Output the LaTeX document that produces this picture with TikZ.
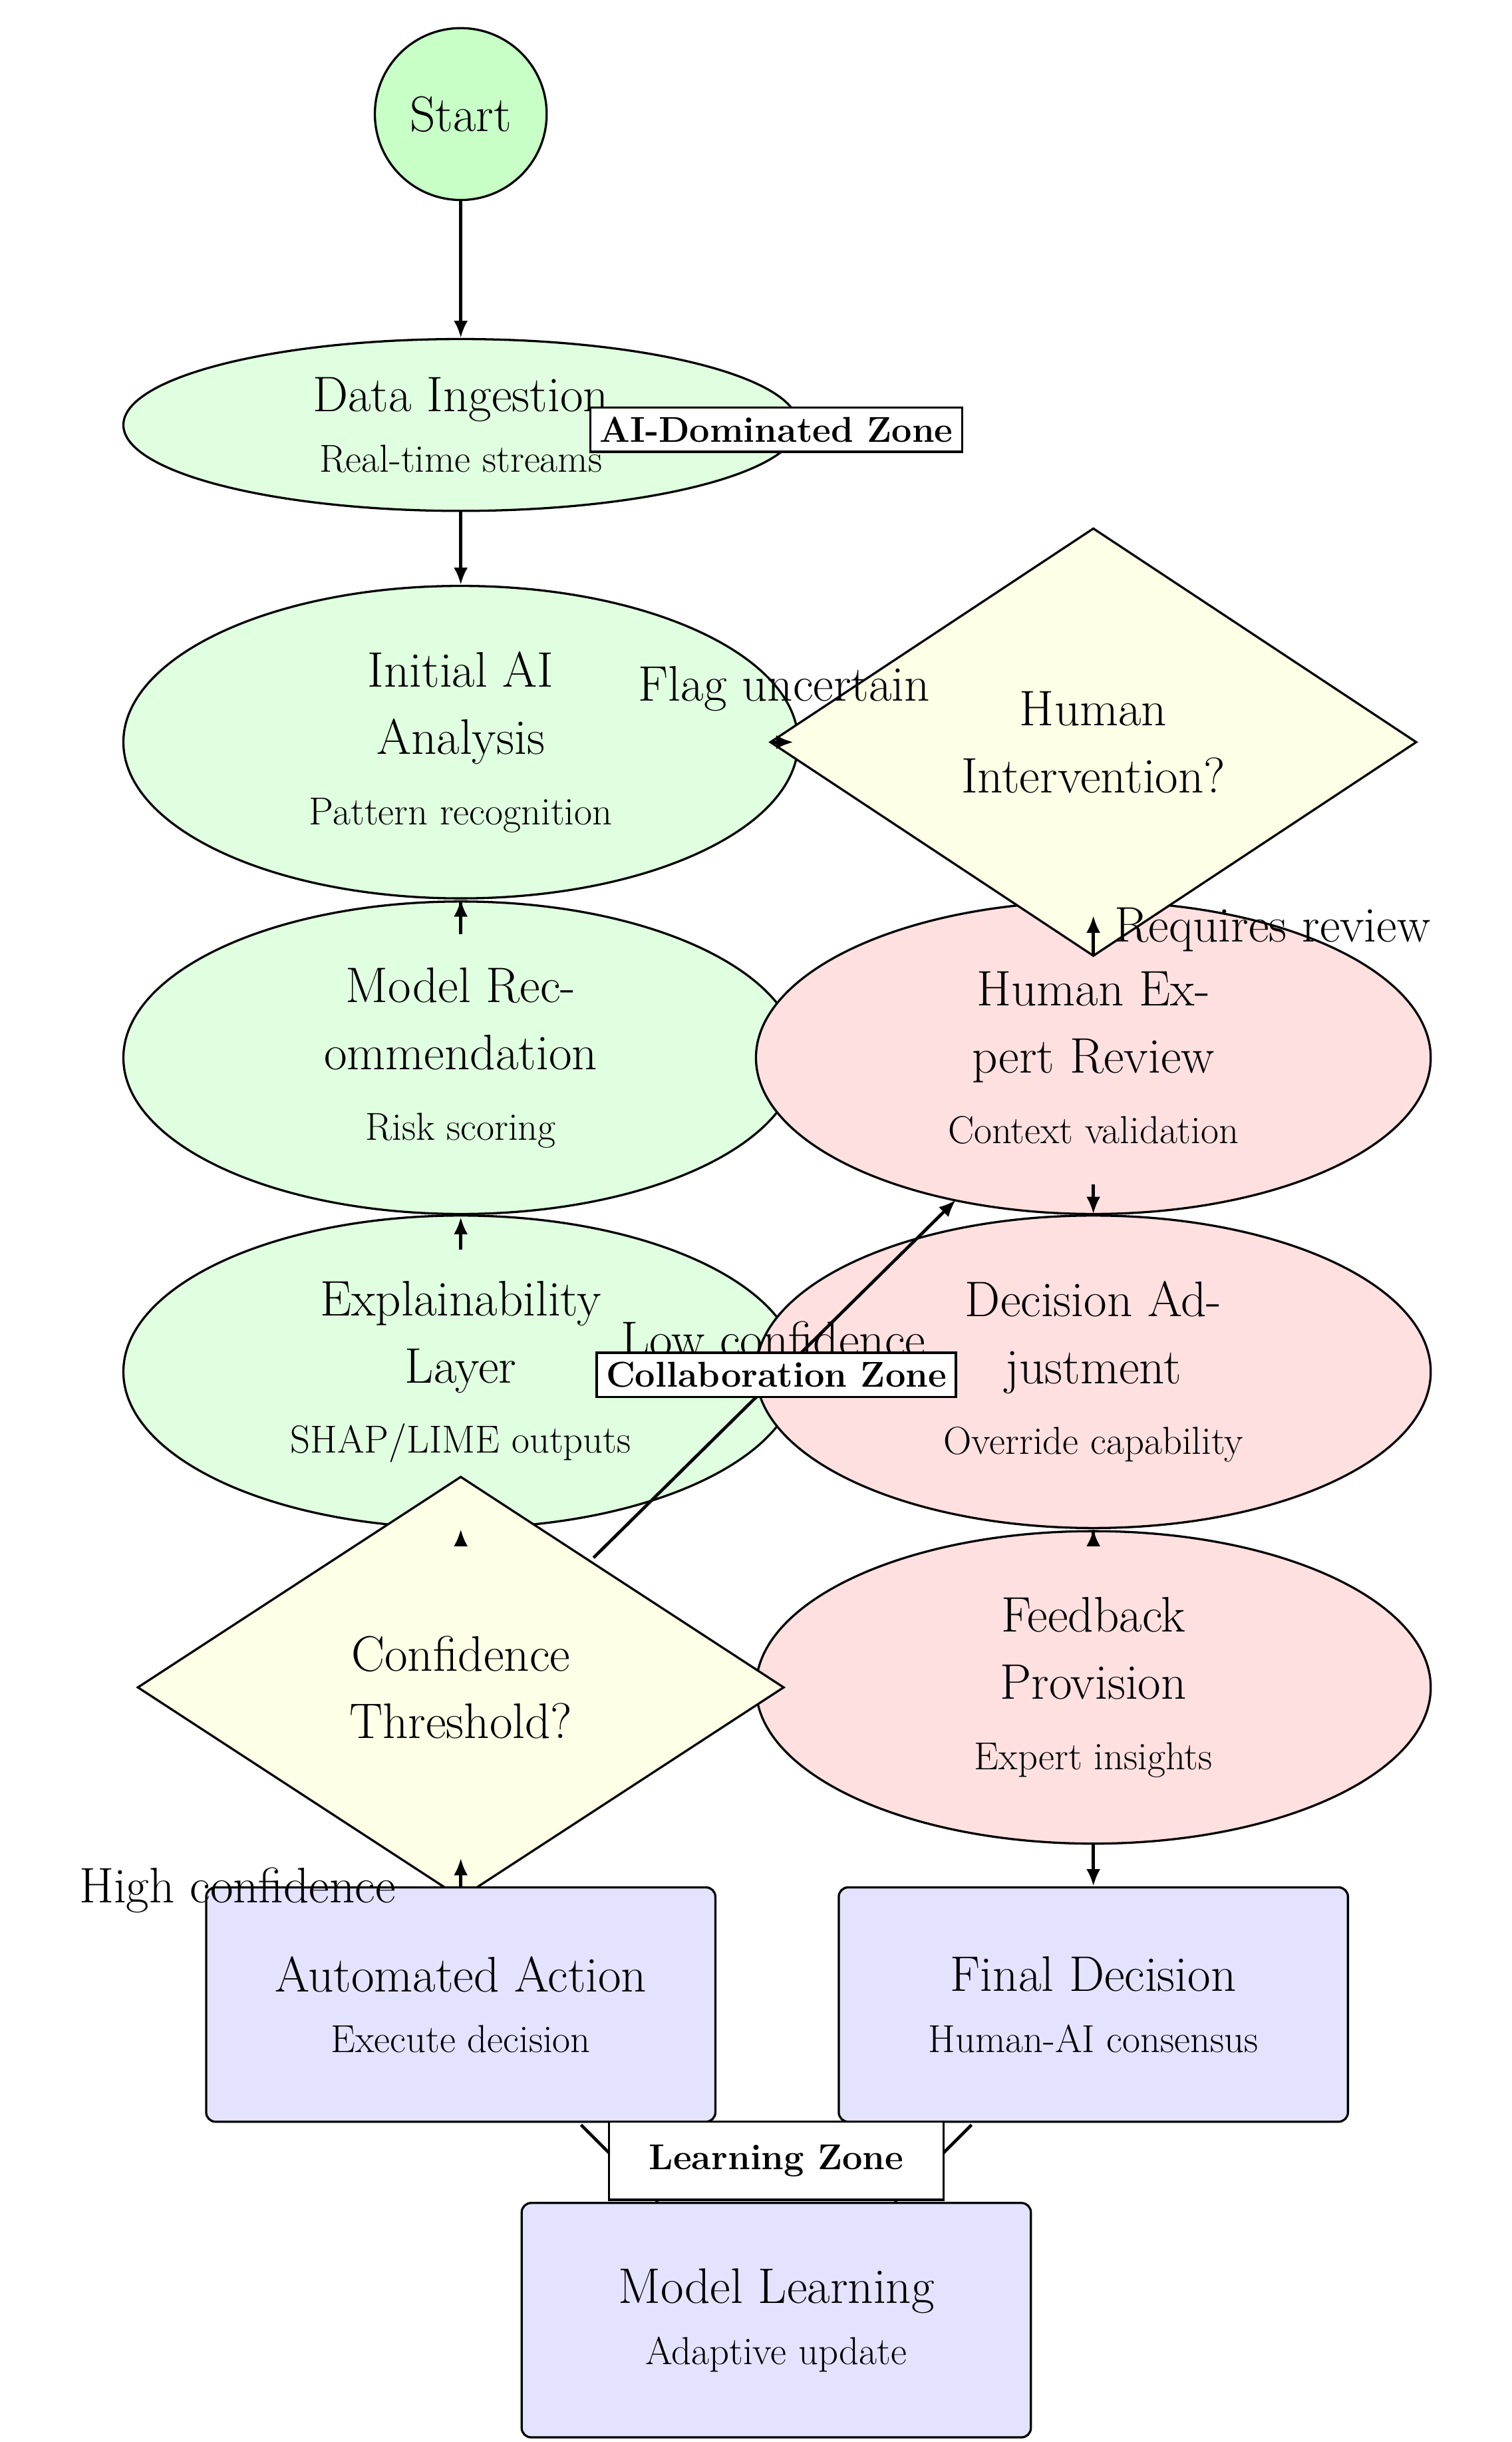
\documentclass[tikz,border=0pt]{standalone}
\usetikzlibrary{shapes.geometric,arrows.meta}
\newcommand{\subl}[1]{{\fontsize{25}{30}\selectfont #1}}
\begin{document}
\begin{tikzpicture}[x=1pt,y=-1pt,
  every node/.style={font=\fontsize{32}{43}\selectfont},
  ell/.style={draw,line width=1.4pt,ellipse,minimum width=432pt,minimum height=200pt,inner sep=0pt,align=center},
  ai/.style={ell,fill=green!12},
  hu/.style={ell,fill=red!12},
  dia/.style={draw,line width=1.4pt,diamond,aspect=1.5,fill=yellow!10,inner sep=0pt,align=center},
  box/.style={draw,line width=1.4pt,rounded corners=6pt,fill=blue!11,minimum width=326pt,minimum height=150pt,align=center},
  zone/.style={draw,line width=1.4pt,fill=white,font=\fontsize{23}{26}\selectfont\bfseries,inner sep=6pt},
  arr/.style={-{Latex[length=11pt,width=9pt]},line width=2pt},
  lab/.style={font=\fontsize{32}{36}\selectfont}]
\useasboundingbox (0,0) rectangle (968,1563);
\node[draw,line width=1.4pt,circle,fill=green!22,minimum size=110pt] (start) at (295,73) {Start};
\node[ai,minimum height=110pt] (data) at (295,272) {Data Ingestion\\[-4pt]\subl{Real-time streams}};
\node[ai] (init) at (295,475) {Initial AI\\Analysis\\[2pt]\subl{Pattern recognition}};
\node[ai] (rec) at (295,677) {Model Rec-\\ommendation\\[2pt]\subl{Risk scoring}};
\node[ai] (expl) at (295,878) {Explainability\\Layer\\[2pt]\subl{SHAP/LIME outputs}};
\node[hu] (rev) at (700,677) {Human Ex-\\pert Review\\[2pt]\subl{Context validation}};
\node[hu] (adj) at (700,878) {Decision Ad-\\justment\\[2pt]\subl{Override capability}};
\node[hu] (fb) at (700,1080) {Feedback\\Provision\\[2pt]\subl{Expert insights}};
\node[dia,minimum width=414pt,minimum height=270pt] (conf) at (295,1080) {Confidence\\Threshold?};
\node[dia,minimum width=414pt,minimum height=274pt] (hint) at (700,475) {Human\\Intervention?};
\node[box] (auto) at (295,1283) {Automated Action\\[-4pt]\subl{Execute decision}};
\node[box] (fin) at (700,1283) {Final Decision\\[-4pt]\subl{Human-AI consensus}};
\node[box] (learn) at (497,1485) {Model Learning\\[-4pt]\subl{Adaptive update}};
% edges
\draw[arr] (start) -- (data);
\draw[arr] (data) -- (init);
\coordinate (m1) at (295,598);
\draw[arr] (m1) -- (rec.north) -- (init.south);
\coordinate (e1) at (295,800);
\coordinate (e2) at (295,779);
\draw[arr] (e1) -- (e2);
\coordinate (c1) at (295,982);
\draw[arr] (c1) -- (expl.south);
\coordinate (h1) at (508,475);
\draw[arr] (hint.west) ++(2,0) -- (h1);
\node[lab] (l1) at (502,441) {Flag uncertain};
\coordinate (r1) at (700,612);
\coordinate (r2) at (700,586);
\draw[arr] (r1) -- (r2);
\node[lab,anchor=west] (l2) at (710,595) {Requires review};
\coordinate (d1) at (700,758);
\coordinate (d2) at (700,777);
\draw[arr] (d1) -- (d2);
\draw[arr] (fb) -- (adj);
\draw[arr] (fb) -- (fin);
\coordinate (cl) at (380,997);
\coordinate (cr) at (612,768);
\draw[arr] (cl) -- (cr);
\node[lab] (l3) at (495,857) {Low confidence};
\draw[arr] (auto.north) -- ++(0,-18);
\node[lab] (l4) at (152,1210) {High confidence};
\draw[line width=2pt] (372,1360) -- (learn);
\draw[line width=2pt] (622,1360) -- (learn);
\node[zone] (z1) at (497,275) {AI-Dominated Zone};
\node[zone] (z2) at (497,880) {Collaboration Zone};
\node[zone,minimum width=214pt,minimum height=50pt] (z3) at (497,1383) {Learning Zone};
\end{tikzpicture}
\end{document}
